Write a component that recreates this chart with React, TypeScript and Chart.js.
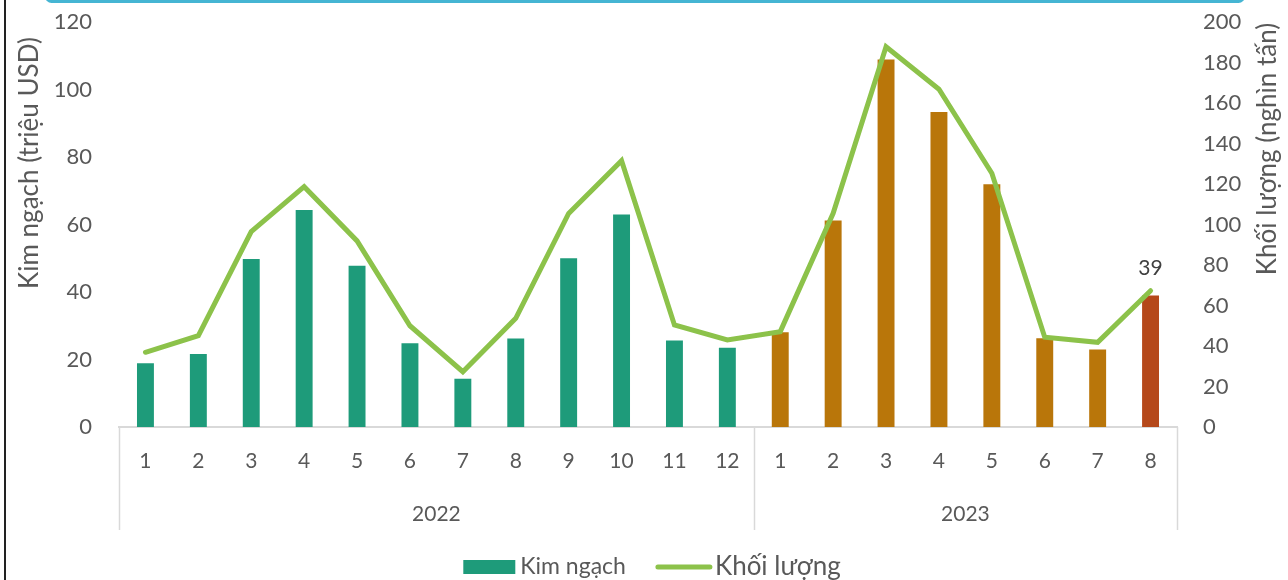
import { useEffect, useRef } from 'react';
import { Chart, registerables } from 'chart.js';

Chart.register(...registerables);

// Month labels along the bottom axis, grouped by year
const months = ['1', '2', '3', '4', '5', '6', '7', '8', '9', '10', '11', '12', '1', '2', '3', '4', '5', '6', '7', '8'];
const yearLabels = ['2022', '2023'];
const monthsPerYear = [12, 8];

// Export value (million USD) and volume (thousand tonnes)
const kimNgach = [18.9, 21.6, 49.8, 64.3, 47.8, 24.8, 14.3, 26.2, 50.0, 63.0, 25.6, 23.5, 28.1, 61.2, 108.9, 93.3, 71.9, 26.3, 23.0, 39];
const khoiLuong = [36.9, 45.1, 96.5, 118.7, 91.9, 50.0, 27.3, 53.7, 105.5, 131.5, 50.4, 43.0, 47.1, 105.5, 187.8, 166.8, 125.3, 44.3, 41.8, 67.3];

const seriesNames = ['Kim ngạch', 'Khối lượng'];
const axisTitles = ['Kim ngạch (triệu USD)', 'Khối lượng (nghìn tấn)'];

const FONT = 'Lato, "Open Sans", sans-serif';
const TEXT = '#595959';
const TEAL = '#1E9B7A';
const AMBER = '#B9760A';
const RUST = '#B5481A';
const GREEN = '#8CC24A';
const RULE = '#D9D9D9';

const barColors = kimNgach.map((_, i) =>
  i === kimNgach.length - 1 ? RUST : i < monthsPerYear[0] ? TEAL : AMBER
);

const overlay = {
  id: 'overlay',
  afterDraw(chart: any) {
    const { ctx, chartArea: a } = chart;
    const n = months.length;
    const step = (a.right - a.left) / n;

    ctx.save();

    // Year separators and year labels under the month row
    ctx.strokeStyle = RULE;
    ctx.lineWidth = 1.5;
    let start = 0;
    const bounds = [0];
    monthsPerYear.forEach((c) => {
      start += c;
      bounds.push(start);
    });
    bounds.forEach((b) => {
      const x = Math.round(a.left + b * step) + 0.5;
      ctx.beginPath();
      ctx.moveTo(x, a.bottom);
      ctx.lineTo(x, a.bottom + 103);
      ctx.stroke();
    });
    ctx.fillStyle = TEXT;
    ctx.font = `21px ${FONT}`;
    ctx.textAlign = 'center';
    ctx.textBaseline = 'middle';
    yearLabels.forEach((y, i) => {
      const cx = a.left + ((bounds[i] + bounds[i + 1]) / 2) * step;
      ctx.fillText(y, cx, a.bottom + 87);
    });

    // Value label on the latest bar
    const meta = chart.getDatasetMeta(1);
    const last = meta.data[meta.data.length - 1];
    ctx.fillStyle = '#404040';
    ctx.font = `21px ${FONT}`;
    ctx.fillText(String(kimNgach[kimNgach.length - 1]), last.x, last.y - 27);

    // Axis titles
    ctx.fillStyle = TEXT;
    ctx.font = `26px ${FONT}`;
    ctx.save();
    ctx.translate(30, 163);
    ctx.rotate(-Math.PI / 2);
    ctx.fillText(axisTitles[0], 0, 0);
    ctx.restore();
    ctx.save();
    ctx.translate(1268, 149);
    ctx.rotate(-Math.PI / 2);
    ctx.fillText(axisTitles[1], 0, 0);
    ctx.restore();

    // Legend
    const ly = 567;
    ctx.textAlign = 'left';
    const f1 = `23px ${FONT}`;
    const f2 = `26px ${FONT}`;
    ctx.font = f1;
    const w1 = ctx.measureText(seriesNames[0]).width;
    ctx.font = f2;
    const w2 = ctx.measureText(seriesNames[1]).width;
    const total = 52 + 5 + w1 + 30 + 56 + 3 + w2;
    let x = 652 - total / 2;
    ctx.fillStyle = TEAL;
    ctx.fillRect(x, ly - 7, 52, 14);
    x += 57;
    ctx.fillStyle = TEXT;
    ctx.font = f1;
    ctx.fillText(seriesNames[0], x, ly);
    x += w1 + 30;
    ctx.strokeStyle = GREEN;
    ctx.lineWidth = 5;
    ctx.lineCap = 'round';
    ctx.beginPath();
    ctx.moveTo(x + 2, ly);
    ctx.lineTo(x + 54, ly);
    ctx.stroke();
    x += 59;
    ctx.font = f2;
    ctx.fillText(seriesNames[1], x, ly);

    ctx.restore();
  },
};

export default function App() {
  const ref = useRef<HTMLCanvasElement | null>(null);

  useEffect(() => {
    if (!ref.current) return;
    const chart = new Chart(ref.current, {
      type: 'bar',
      data: {
        labels: months,
        datasets: [
          {
            type: 'line',
            label: seriesNames[1],
            data: khoiLuong,
            yAxisID: 'y1',
            borderColor: GREEN,
            backgroundColor: GREEN,
            borderWidth: 5,
            pointRadius: 0,
            tension: 0,
            borderCapStyle: 'round',
            borderJoinStyle: 'miter',
            order: 0,
          } as any,
          {
            type: 'bar',
            label: seriesNames[0],
            data: kimNgach,
            yAxisID: 'y',
            backgroundColor: barColors,
            borderWidth: 0,
            categoryPercentage: 1,
            barPercentage: 0.32,
            order: 1,
          },
        ],
      },
      options: {
        responsive: false,
        animation: false,
        layout: { padding: { top: 22, left: 0, right: 0, bottom: 0 } },
        plugins: { legend: { display: false }, tooltip: { enabled: false } },
        scales: {
          x: {
            grid: { display: false, drawTicks: false },
            border: { color: RULE, width: 2 },
            ticks: {
              color: TEXT,
              font: { family: FONT, size: 21 },
              padding: 22,
              maxRotation: 0,
              autoSkip: false,
            },
            afterFit: (s: any) => {
              s.height = 153;
              s.paddingLeft = 0;
              s.paddingRight = 0;
            },
          },
          y: {
            position: 'left',
            min: 0,
            max: 120,
            grid: { display: false, drawTicks: false },
            border: { display: false },
            ticks: { stepSize: 20, color: TEXT, font: { family: FONT, size: 22 }, padding: 27 },
            afterFit: (s: any) => {
              s.width = 119;
              s.paddingTop = 0;
              s.paddingBottom = 0;
            },
          },
          y1: {
            position: 'right',
            min: 0,
            max: 200,
            grid: { display: false, drawTicks: false },
            border: { display: false },
            ticks: { stepSize: 20, color: TEXT, font: { family: FONT, size: 22 }, padding: 26 },
            afterFit: (s: any) => {
              s.width = 111;
              s.paddingTop = 0;
              s.paddingBottom = 0;
            },
          },
        },
      },
      plugins: [overlay],
    });
    return () => chart.destroy();
  }, []);

  return (
    <div style={{ position: 'absolute', left: 0, top: 0, width: 1288, height: 580, background: '#fff', overflow: 'hidden' }}>
      <div style={{ position: 'absolute', left: 4, top: 0, width: 2, height: 580, background: '#222' }} />
      <div style={{ position: 'absolute', left: 45, top: -10, width: 1200, height: 13, background: '#45B5D3', borderRadius: 8 }} />
      <canvas ref={ref} width={1288} height={580} style={{ position: 'absolute', left: 0, top: 0, width: 1288, height: 580 }} />
    </div>
  );
}
